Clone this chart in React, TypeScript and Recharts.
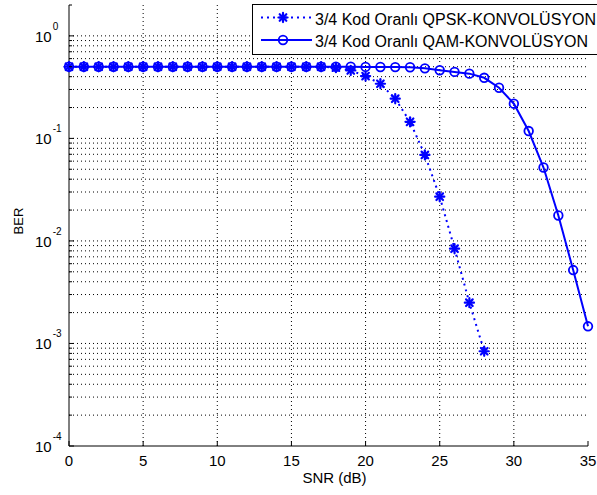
import React from 'react'
import { LineChart, Line, XAxis, YAxis, CartesianGrid, Legend, Label } from 'recharts'

// SNR (dB) and BER values
const snrQpsk = [0, 1, 2, 3, 4, 5, 6, 7, 8, 9, 10, 11, 12, 13, 14, 15, 16, 17, 18, 19, 20, 21, 22, 23, 24, 25, 26, 27, 28]
const berQpsk = [
  0.5, 0.5, 0.5, 0.5, 0.5, 0.5, 0.5, 0.5, 0.5, 0.5,
  0.5, 0.5, 0.5, 0.5, 0.5, 0.5, 0.5, 0.5, 0.49, 0.46,
  0.405, 0.341, 0.244, 0.145, 0.069, 0.027, 0.0084, 0.0025, 0.00084,
]
const snrQam = [0, 1, 2, 3, 4, 5, 6, 7, 8, 9, 10, 11, 12, 13, 14, 15, 16, 17, 18, 19, 20, 21, 22, 23, 24, 25, 26, 27, 28, 29, 30, 31, 32, 33, 34, 35]
const berQam = [
  0.5, 0.5, 0.5, 0.5, 0.5, 0.5, 0.5, 0.5, 0.5, 0.5,
  0.5, 0.5, 0.5, 0.5, 0.5, 0.5, 0.5, 0.5, 0.5, 0.5,
  0.498, 0.497, 0.496, 0.494, 0.482, 0.462, 0.445, 0.428, 0.39, 0.312,
  0.218, 0.118, 0.052, 0.0177, 0.0052, 0.00147,
]
const seriesNames = ['3/4 Kod Oranlı QPSK-KONVOLÜSYON', '3/4 Kod Oranlı QAM-KONVOLÜSYON']

const xTicks = [0, 5, 10, 15, 20, 25, 30, 35]
const xGrid = [5, 10, 15, 20, 25, 30]
const yDecades = [0.0001, 0.001, 0.01, 0.1, 1]
const yExponents = ['-4', '-3', '-2', '-1', '0']
const yMantissas = [2, 3, 4, 5, 6, 7, 8, 9]
const yTop = 2

const yMinor = [...yDecades.slice(0, 4).flatMap((d) => yMantissas.map((m) => m * d)), yTop]
const yAllTicks = [...yDecades, ...yMinor].sort((a, b) => a - b)
const yGrid = yAllTicks.filter((v) => v > yDecades[0] && v < yTop)

const data = snrQam.map((snr, i) => {
  const qi = snrQpsk.indexOf(snr)
  return { snr, qpsk: qi >= 0 ? berQpsk[qi] : undefined, qam: berQam[i] }
})

const BLUE = '#0000ff'
const FONT = "'Liberation Sans', Arial, sans-serif"

const isDecade = (v: number) => yDecades.some((d) => Math.abs(d - v) < d * 1e-6)

const StarDot = (props: any) => {
  const { cx, cy, value } = props
  if (value == null || cx == null || cy == null) return <g key={props.key} />
  const r = 4.6
  const d = r * 0.72
  return (
    <g key={props.key} stroke={BLUE} strokeWidth={2.2} strokeLinecap="round">
      <line x1={cx - r} y1={cy} x2={cx + r} y2={cy} />
      <line x1={cx} y1={cy - r} x2={cx} y2={cy + r} />
      <line x1={cx - d} y1={cy - d} x2={cx + d} y2={cy + d} />
      <line x1={cx - d} y1={cy + d} x2={cx + d} y2={cy - d} />
    </g>
  )
}

const CircleDot = (props: any) => {
  const { cx, cy, value } = props
  if (value == null || cx == null || cy == null) return <g key={props.key} />
  return <circle key={props.key} cx={cx} cy={cy} r={4.3} fill="none" stroke={BLUE} strokeWidth={1.8} />
}

const LeftTick = (props: any) => {
  const { x, y, payload } = props
  const v = payload.value
  const major = isDecade(v)
  const idx = yDecades.findIndex((d) => Math.abs(d - v) < d * 1e-6)
  return (
    <g>
      <line x1={x} y1={y} x2={x + (major ? 5 : 3)} y2={y} stroke="#000" />
      {major && (
        <text x={x - 34} y={y + 6} fontSize={15} fill="#000" fontFamily={FONT}>
          10
          <tspan dy={-12} dx={1} fontSize={10}>{yExponents[idx]}</tspan>
        </text>
      )}
    </g>
  )
}

const RightTick = (props: any) => {
  const { x, y, payload } = props
  const major = isDecade(payload.value)
  return <line x1={x} y1={y} x2={x - (major ? 5 : 3)} y2={y} stroke="#000" />
}

const BottomTick = (props: any) => {
  const { x, y, payload } = props
  return (
    <g>
      <line x1={x} y1={y} x2={x} y2={y - 5} stroke="#000" />
      <text x={x} y={y + 20} textAnchor="middle" fontSize={15} fill="#000" fontFamily={FONT}>
        {payload.value}
      </text>
    </g>
  )
}

const TopTick = (props: any) => {
  const { x, y } = props
  return <line x1={x} y1={y} x2={x} y2={y + 5} stroke="#000" />
}

const renderLegend = () => {
  const rows = [13.5, 36]
  return (
    <svg width={345} height={52} style={{ display: 'block' }}>
      <rect x={0.5} y={0.5} width={360} height={50} fill="#fff" stroke="#000" />
      {seriesNames.map((name, i) => {
        const ly = rows[i]
        return (
          <g key={name}>
            <line
              x1={9}
              x2={60}
              y1={ly}
              y2={ly}
              stroke={BLUE}
              strokeWidth={2}
              strokeDasharray={i === 0 ? '2 4' : undefined}
            />
            {i === 0 ? (
              <StarDot cx={31} cy={ly} value={1} />
            ) : (
              <CircleDot cx={31} cy={ly} value={1} />
            )}
            <text x={63} y={ly + 7} fontSize={16} fill="#000" fontFamily={FONT}>
              {name}
            </text>
          </g>
        )
      })}
    </svg>
  )
}

const renderXLabel = (props: any) => {
  const vb = props.viewBox
  return (
    <text x={vb.x + vb.width / 2 + 6} y={483} textAnchor="middle" fontSize={15} fill="#000" fontFamily={FONT}>
      SNR (dB)
    </text>
  )
}

const renderYLabel = () => (
  <text x={23} y={221} transform="rotate(-90, 23, 221)" textAnchor="middle" fontSize={13} fill="#000" fontFamily={FONT}>
    BER
  </text>
)

export default function App() {
  return (
    <div style={{ width: 597, height: 495, background: '#fff' }}>
      <style>{'body { margin: 0; }'}</style>
      <LineChart width={597} height={495} data={data} margin={{ top: 5, right: 9, bottom: 0, left: 0 }}>
        <CartesianGrid
          horizontalValues={yGrid}
          verticalValues={xGrid}
          stroke="#000"
          strokeDasharray="1 3"
        />
        <XAxis
          dataKey="snr"
          type="number"
          domain={[0, 35]}
          ticks={xTicks}
          interval={0}
          height={49}
          tickSize={0}
          tickMargin={0}
          tickLine={false}
          axisLine={{ stroke: '#000' }}
          tick={<BottomTick />}
        >
          <Label content={renderXLabel} />
        </XAxis>
        <XAxis
          xAxisId="top"
          orientation="top"
          type="number"
          domain={[0, 35]}
          ticks={xTicks}
          interval={0}
          height={0}
          tickSize={0}
          tickMargin={0}
          tickLine={false}
          axisLine={{ stroke: '#000' }}
          tick={<TopTick />}
        />
        <YAxis
          scale="log"
          type="number"
          domain={[yDecades[0], yTop]}
          ticks={yAllTicks}
          interval={0}
          width={69}
          tickSize={0}
          tickMargin={0}
          tickLine={false}
          axisLine={{ stroke: '#000' }}
          tick={<LeftTick />}
        >
          <Label content={renderYLabel} />
        </YAxis>
        <YAxis
          yAxisId="right"
          orientation="right"
          scale="log"
          type="number"
          domain={[yDecades[0], yTop]}
          ticks={yAllTicks}
          interval={0}
          width={0}
          tickSize={0}
          tickMargin={0}
          tickLine={false}
          axisLine={{ stroke: '#000' }}
          tick={<RightTick />}
        />
        <Line
          type="linear"
          dataKey="qpsk"
          name={seriesNames[0]}
          stroke={BLUE}
          strokeWidth={2}
          strokeDasharray="2 4"
          dot={StarDot}
          activeDot={false}
          isAnimationActive={false}
        />
        <Line
          type="linear"
          dataKey="qam"
          name={seriesNames[1]}
          stroke={BLUE}
          strokeWidth={2}
          dot={CircleDot}
          activeDot={false}
          isAnimationActive={false}
        />
        <Legend
          layout="vertical"
          align="center"
          verticalAlign="middle"
          wrapperStyle={{ top: 4, left: 252, width: 345 }}
          content={renderLegend}
        />
      </LineChart>
    </div>
  )
}
